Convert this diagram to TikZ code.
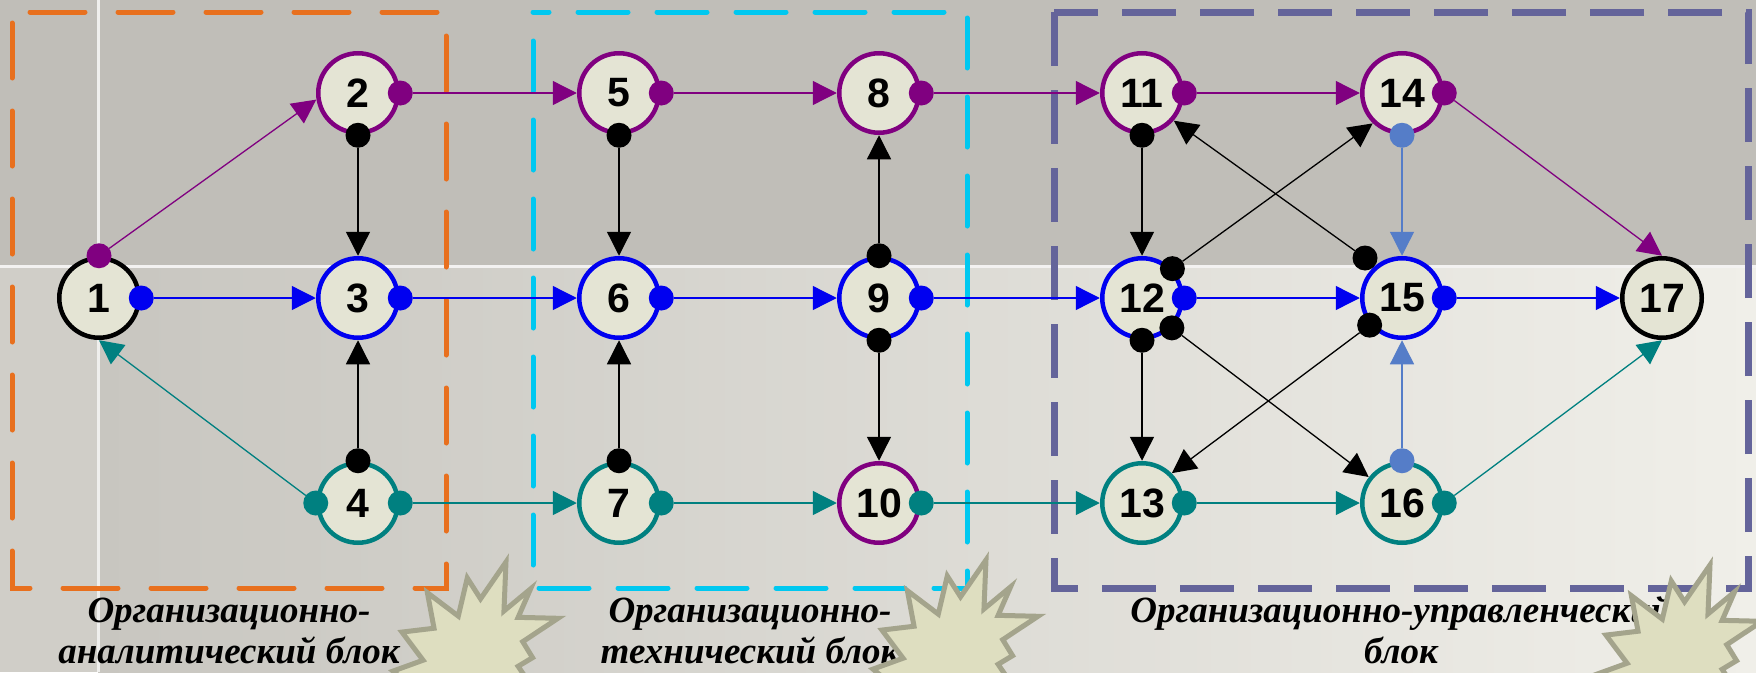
\documentclass[tikz,border=0pt]{standalone}
\usepackage{fontspec}
\setmainfont{Liberation Serif}
\newfontfamily\numfont{Liberation Sans}
\usetikzlibrary{arrows.meta}

\definecolor{cPurple}{RGB}{128,0,128}
\definecolor{cBlue}{RGB}{0,0,240}
\definecolor{cTeal}{RGB}{0,128,128}
\definecolor{cSteel}{RGB}{85,125,200}
\definecolor{cFill}{RGB}{228,228,212}
\definecolor{cOrange}{RGB}{232,112,30}
\definecolor{cCyan}{RGB}{0,200,240}
\definecolor{cSlate}{RGB}{100,100,154}
\definecolor{bgTop}{RGB}{192,190,184}
\definecolor{bgLeft}{RGB}{200,198,192}
\definecolor{bgRight}{RGB}{240,239,233}
\definecolor{bgStrip}{RGB}{208,206,200}
\definecolor{starFill}{RGB}{222,222,192}
\definecolor{starEdge}{RGB}{164,164,140}

\newcommand\drawburst[2]{%
  \begin{scope}[shift={(#1,#2)}, x=1.65pt, y=-1.83pt]
    \filldraw[starstyle] (53.06,20.10) -- (68.47,0) -- (67.25,26.75) -- (83.37,14.69)
      -- (75.83,30.24) -- (100,30.76) -- (78.63,43.53) -- (84.58,52.27) -- (75.83,56.99)
      -- (87.39,72.37) -- (67.78,66.44) -- (69.18,80.42) -- (56.39,73.77) -- (53.76,87.23)
      -- (45.70,80.42) -- (40.28,91.26) -- (34.85,83.91) -- (22.76,100) -- (22.25,84.44)
      -- (5.95,82.52) -- (15.42,71.16) -- (0,59.62) -- (18.22,53.67) -- (5.43,38.29)
      -- (24.87,36.19) -- (20.84,16.78) -- (39.58,29.55) -- (45.01,8.74) -- cycle;
  \end{scope}}

\begin{document}
\begin{tikzpicture}[x=1pt, y=-1pt,
  stage/.style={circle, draw=#1, line width=4.5pt, fill=cFill, minimum size=79.5pt,
    inner sep=0pt, outer sep=2.5pt, font=\numfont\bfseries\fontsize{41}{41}\selectfont},
  port/.style={circle, fill=#1, minimum size=25pt, inner sep=0pt, outer sep=0pt},
  flow/.style={draw=#1, line width=1.3pt, -{Triangle[length=24pt,width=24pt]}},
  blockbox/.style={line width=5pt, line cap=round},
  blocklabel/.style={anchor=base, inner sep=0pt, font=\bfseries\itshape\fontsize{37}{41}\selectfont},
  starstyle/.style={fill=starFill, draw=starEdge, line width=5pt, line join=miter, miter limit=6}
]
\useasboundingbox (0,0) rectangle (1756,672);
\clip (0,0) rectangle (1756,672);

% background
\fill[bgTop] (0,0) rectangle (1756,266);
\shade[left color=bgLeft, right color=bgRight] (98,266) rectangle (1756,672);
\fill[bgStrip] (0,266) rectangle (98,672);
\draw[white!80!bgTop, line width=3pt] (0,266) -- (1756,266);
\draw[white!75!bgTop, line width=3pt] (98,0) -- (98,672);

% block frames
\draw[blockbox, cOrange, dash pattern=on 55pt off 33pt, dash phase=77pt] (12,12) rectangle (446,588);
\draw[blockbox, cCyan, dash pattern=on 50pt off 29pt, dash phase=50pt] (533,12) rectangle (967,588);
\draw[cSlate, line width=7pt, dash pattern=on 54pt off 24pt] (1054,12) rectangle (1748,588);

% stages
\node[stage=black]   (n1)  at (99,298)  {1};
\node[stage=cPurple] (n2)  at (358,93)  {2};
\node[stage=cBlue]   (n3)  at (358,298) {3};
\node[stage=cTeal]   (n4)  at (358,503) {4};
\node[stage=cPurple] (n5)  at (619,93)  {5};
\node[stage=cBlue]   (n6)  at (619,298) {6};
\node[stage=cTeal]   (n7)  at (619,503) {7};
\node[stage=cPurple] (n8)  at (879,93)  {8};
\node[stage=cBlue]   (n9)  at (879,298) {9};
\node[stage=cPurple] (n10) at (879,503) {10};
\node[stage=cPurple] (n11) at (1142,93)  {11};
\node[stage=cBlue]   (n12) at (1142,298) {12};
\node[stage=cTeal]   (n13) at (1142,503) {13};
\node[stage=cPurple] (n14) at (1402,93)  {14};
\node[stage=cBlue]   (n15) at (1402,298) {15};
\node[stage=cTeal]   (n16) at (1402,503) {16};
\node[stage=black]   (n17) at (1662,298) {17};

% ports
\node[port=cPurple] (p1n) at (n1.north) {};
\node[port=cBlue]   (p1e) at (n1.east) {};
\node[port=cPurple] (p2e) at (n2.east) {};
\node[port=black]   (p2s) at (n2.south) {};
\node[port=cBlue]   (p3e) at (n3.east) {};
\node[port=cTeal]   (p4w) at (n4.west) {};
\node[port=cTeal]   (p4e) at (n4.east) {};
\node[port=black]   (p4n) at (n4.north) {};
\node[port=cPurple] (p5e) at (n5.east) {};
\node[port=black]   (p5s) at (n5.south) {};
\node[port=cBlue]   (p6e) at (n6.east) {};
\node[port=cTeal]   (p7e) at (n7.east) {};
\node[port=black]   (p7n) at (n7.north) {};
\node[port=cPurple] (p8e) at (n8.east) {};
\node[port=cBlue]   (p9e) at (n9.east) {};
\node[port=black]   (p9n) at (n9.north) {};
\node[port=black]   (p9s) at (n9.south) {};
\node[port=cTeal]   (p10e) at (n10.east) {};
\node[port=cPurple] (p11e) at (n11.east) {};
\node[port=black]   (p11s) at (n11.south) {};
\node[port=cBlue]   (p12e) at (n12.east) {};
\node[port=black]   (p12ne) at (n12.44) {};
\node[port=black]   (p12se) at (n12.-45) {};
\node[port=black]   (p12s) at (n12.south) {};
\node[port=cTeal]   (p13e) at (n13.east) {};
\node[port=cPurple] (p14e) at (n14.east) {};
\node[port=cSteel]  (p14s) at (n14.south) {};
\node[port=cBlue]   (p15e) at (n15.east) {};
\node[port=black]   (p15nw) at (1365,258) {};
\node[port=black]   (p15sw) at (n15.220) {};
\node[port=cTeal]   (p16e) at (n16.east) {};
\node[port=cSteel]  (p16n) at (n16.north) {};

% flows
\draw[flow=cPurple] (p1n) -- (n2.189);
\draw[flow=cBlue]   (p1e) -- (n3.west);
\draw[flow=cTeal]   (p4w) -- (n1.south);
\draw[flow=black]   (p2s) -- (n3.north);
\draw[flow=black]   (p4n) -- (n3.south);
\draw[flow=cPurple] (p2e) -- (n5.west);
\draw[flow=cBlue]   (p3e) -- (n6.west);
\draw[flow=cTeal]   (p4e) -- (n7.west);
\draw[flow=black]   (p5s) -- (n6.north);
\draw[flow=black]   (p7n) -- (n6.south);
\draw[flow=cPurple] (p5e) -- (n8.west);
\draw[flow=cBlue]   (p6e) -- (n9.west);
\draw[flow=cTeal]   (p7e) -- (n10.west);
\draw[flow=black]   (p9n) -- (n8.south);
\draw[flow=black]   (p9s) -- (n10.north);
\draw[flow=cPurple] (p8e) -- (n11.west);
\draw[flow=cBlue]   (p9e) -- (n12.west);
\draw[flow=cTeal]   (p10e) -- (n13.west);
\draw[flow=black]   (p11s) -- (n12.north);
\draw[flow=black]   (p12s) -- (n13.north);
\draw[flow=cPurple] (p11e) -- (n14.west);
\draw[flow=cBlue]   (p12e) -- (n15.west);
\draw[flow=cTeal]   (p13e) -- (n16.west);
\draw[flow=black]   (p12ne) -- (n14.226);
\draw[flow=black]   (p12se) -- (n16.142);
\draw[flow=black]   (p15nw) -- (n11.-41);
\draw[flow=black]   (p15sw) -- (n13.45);
\draw[flow=cSteel]  (p14s) -- (n15.north);
\draw[flow=cSteel]  (p16n) -- (n15.south);
\draw[flow=cPurple] (p14e) -- (n17.north);
\draw[flow=cBlue]   (p15e) -- (n17.west);
\draw[flow=cTeal]   (p16e) -- (n17.south);

% labels
\node[blocklabel] (lab1a) at (229,622) {Организационно-};
\node[blocklabel] (lab1b) at (229,663) {аналитический блок};
\node[blocklabel] (lab2a) at (750,622) {Организационно-};
\node[blocklabel] (lab2b) at (750,663) {технический блок};
\node[blocklabel] (lab3a) at (1401,622) {Организационно-управленческий};
\node[blocklabel] (lab3b) at (1401,663) {блок};

% starbursts
\drawburst{393}{562}
\drawburst{873}{560}
\drawburst{1597}{565}
\end{tikzpicture}
\end{document}
